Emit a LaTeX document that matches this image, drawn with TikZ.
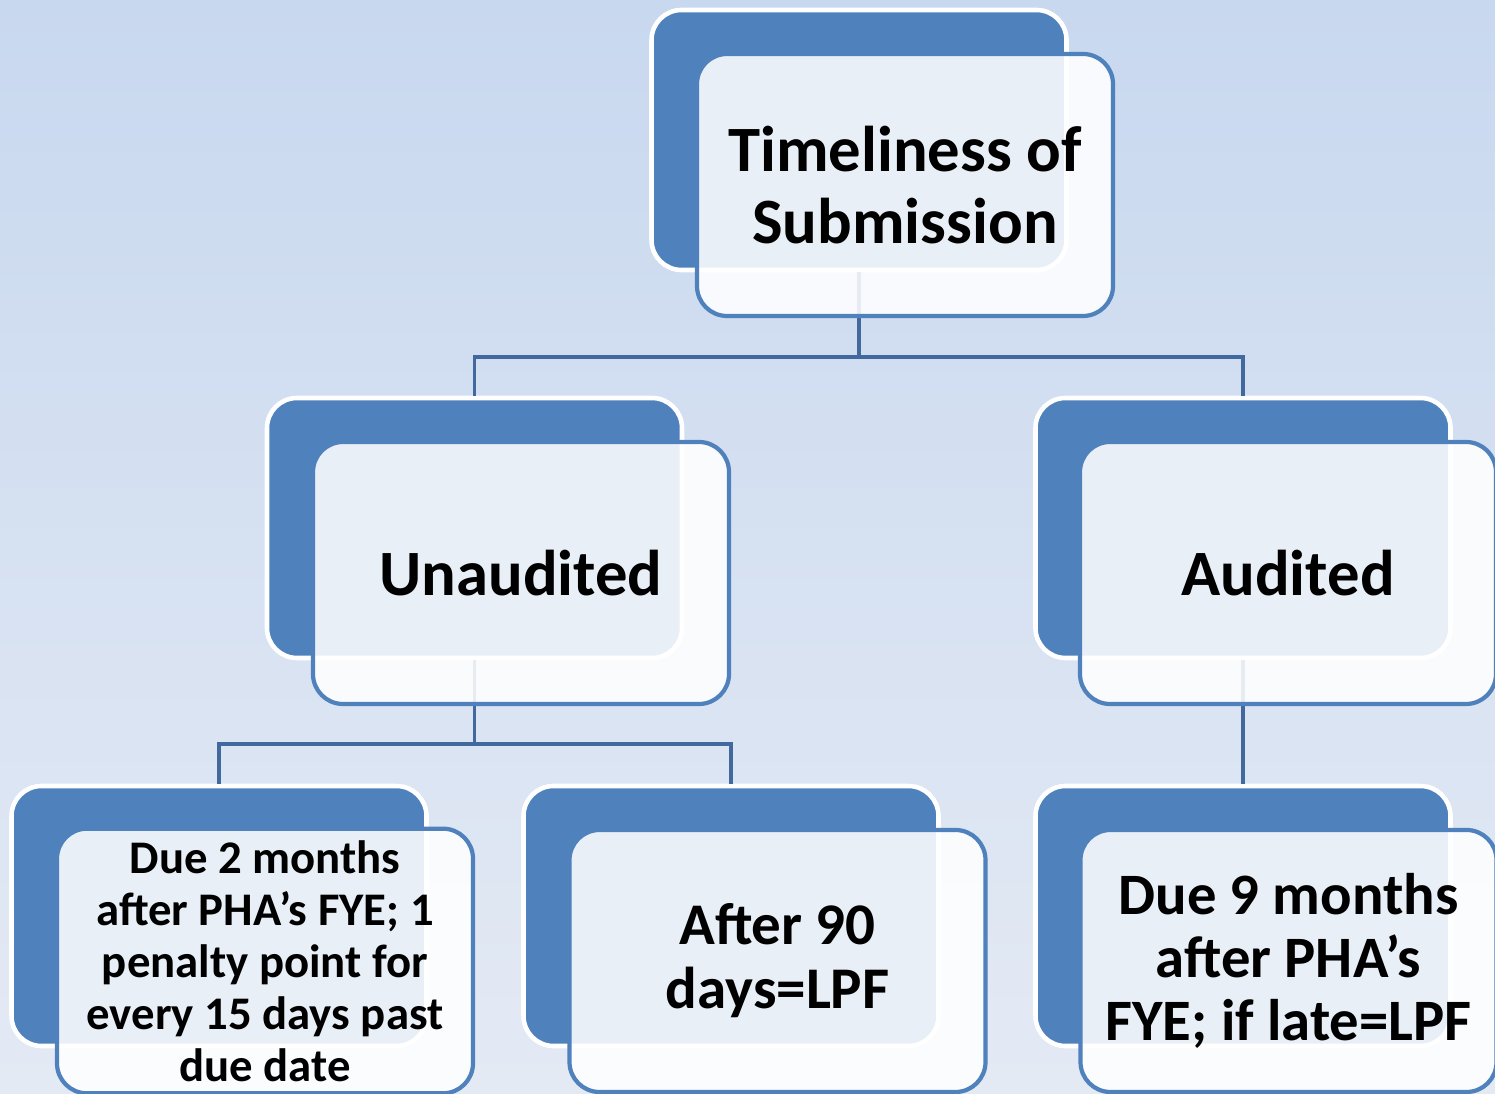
\documentclass[tikz,border=0pt]{standalone}
\usepackage{fontspec}
\setmainfont{Carlito}
\usepackage{tikz}
\definecolor{boxblue}{HTML}{4F81BD}
\definecolor{linkblue}{HTML}{41699E}
\definecolor{bgtop}{HTML}{C8D8EF}
\definecolor{bgbottom}{HTML}{E4EAF4}
\tikzset{
  backbox/.style={rounded corners=0.3cm, fill=boxblue, draw=white, line width=1.3pt,
    minimum width=4.15cm, minimum height=2.6cm},
  frontbox/.style={rounded corners=0.3cm, fill=white, fill opacity=0.88, text opacity=1,
    draw=boxblue, draw opacity=1, line width=1.2pt, minimum width=4.16cm, minimum height=2.62cm,
    align=center, font=\bfseries},
  link/.style={draw=linkblue, line width=1.1pt}
}

\begin{document}
\begin{tikzpicture}
\fill[top color=bgtop, bottom color=bgbottom] (0,0) rectangle (14.95,10.94); % background
\useasboundingbox (0,0) rectangle (14.95,10.94);
\node[backbox] (topback) at (8.59, 9.54) {}; % Timeliness.back
\node[backbox] (unback) at (4.745, 5.66) {}; % Unaudited.back
\node[backbox] (audback) at (12.43, 5.66) {}; % Audited.back
\node[backbox] (dueback) at (2.19, 1.78) {}; % Due2.back
\node[backbox] (lpfback) at (7.31, 1.78) {}; % After90.back
\node[backbox] (latback) at (12.43, 1.78) {}; % Due9.back
\draw[link] (topback.south) -- ++(0,-0.85) coordinate (topsplit) -| (unback.north); % top.split
\draw[link] (topsplit) -| (audback.north);
\draw[link] (unback.south) -- ++(0,-0.84) coordinate (unsplit) -| (dueback.north); % un.split
\draw[link] (unsplit) -| (lpfback.north);
\draw[link] (audback.south) -- (latback.north); % aud.link
\node[frontbox, font=\bfseries\fontsize{18.4}{20.5}\selectfont] (top) at (9.05, 9.09) {Timeliness of\\Submission}; % Timeliness
\node[frontbox, font=\bfseries\fontsize{18.4}{20.5}\selectfont] (unaud) at (5.21, 5.21) {Unaudited}; % Unaudited
\node[frontbox, font=\bfseries\fontsize{18.4}{20.5}\selectfont] (aud) at (12.88, 5.21) {Audited}; % Audited
\node[frontbox, font=\bfseries\fontsize{13.3}{14.8}\selectfont] (due) at (2.65, 1.33) {Due 2 months\\after PHA’s FYE; 1\\penalty point for\\every 15 days past\\due date}; % Due2
\node[frontbox, font=\bfseries\fontsize{16.8}{18.2}\selectfont] (lpf) at (7.775, 1.33) {After 90\\days=LPF}; % After90
\node[frontbox, font=\bfseries\fontsize{16.7}{18}\selectfont] (late) at (12.885, 1.33) {Due 9 months\\after PHA’s\\FYE; if late=LPF}; % Due9
\end{tikzpicture}
\end{document}
